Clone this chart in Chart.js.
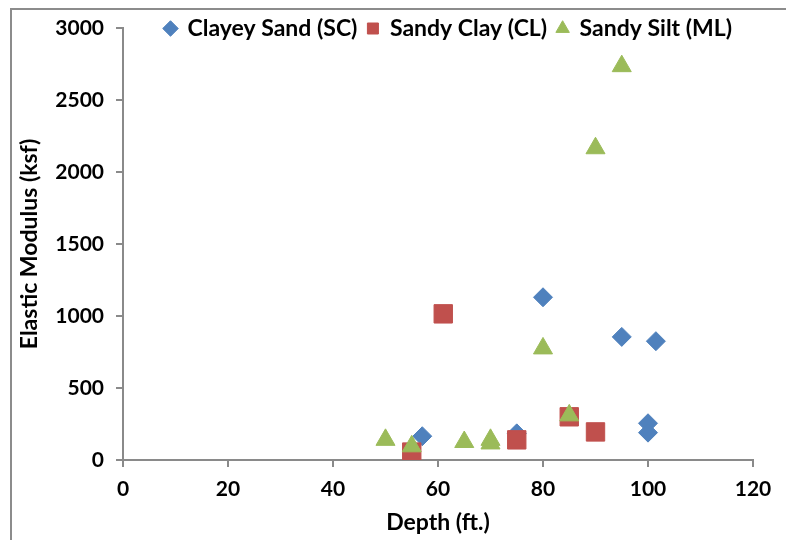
<!DOCTYPE html>
<html>
<head>
<meta charset="utf-8">
<script src="https://cdn.jsdelivr.net/npm/chart.js@4"></script>
<style>
  html, body { margin: 0; padding: 0; background: #fff; }
  #wrap { position: relative; width: 786px; height: 540px; }
  #frame { position: absolute; left: 10px; top: 8px; right: -5px; bottom: -5px;
           border-left: 2px solid #8c8c8c; border-top: 2px solid #8c8c8c; }
  canvas { position: absolute; left: 0; top: 0; }
</style>
</head>
<body>
<div id="wrap">
  <div id="frame"></div>
  <canvas id="chart" width="786" height="540"></canvas>
</div>
<script>
// depth (ft.) vs elastic modulus (ksf)
const sandDepth = [57, 75, 80, 95, 101.5, 100, 100];
const sandMod   = [165, 185, 1130, 855, 825, 255, 190];
const clayDepth = [55, 61, 75, 85, 90];
const clayMod   = [55, 1015, 140, 300, 195];
const siltDepth = [50, 55, 65, 70, 70, 85, 80, 90, 95];
const siltMod   = [140, 95, 125, 140, 115, 310, 775, 2165, 2735];

const xTicks = [0, 20, 40, 60, 80, 100, 120];
const yTicks = [0, 500, 1000, 1500, 2000, 2500, 3000];

const font = 'Lato';
const axisColor = '#8a8a8a';

function pts(xs, ys) {
  return xs.map((x, i) => ({ x: x, y: ys[i] }));
}

// legend sits inside the plot, on top, like excel does it
const legendOverlay = {
  id: 'legendOverlay',
  afterInit(chart) {
    const lg = chart.legend;
    if (!lg) return;
    const fit = lg.fit;
    lg.fit = function () {
      fit.call(this);
      this.realHeight = this.height;
      this.height = 0;
    };
  },
  afterLayout(chart) {
    const lg = chart.legend;
    if (!lg) return;
    lg.top = 7;
    lg.bottom = 7 + (lg.realHeight || 40);
    lg.left = 155;
    lg.right = 786;
  },
};

const chart = new Chart(document.getElementById('chart'), {
  type: 'scatter',
  plugins: [legendOverlay],
  data: {
    datasets: [{
      label: 'Clayey Sand (SC)',
      data: pts(sandDepth, sandMod),
      pointStyle: 'rectRot',
      pointRadius: 9.5,
      backgroundColor: '#4F81BD',
      borderColor: '#4F81BD',
      borderWidth: 1,
      order: 2,
    }, {
      label: 'Sandy Clay (CL)',
      data: pts(clayDepth, clayMod),
      pointStyle: 'rect',
      pointRadius: 13,
      backgroundColor: '#C0504D',
      borderColor: '#C0504D',
      borderWidth: 1,
      order: 1,
    }, {
      label: 'Sandy Silt (ML)',
      data: pts(siltDepth, siltMod),
      pointStyle: 'triangle',
      pointRadius: 11,
      backgroundColor: '#9BBB59',
      borderColor: '#9BBB59',
      borderWidth: 1,
      order: 0,
    }],
  },
  options: {
    responsive: false,
    animation: false,
    layout: { padding: { left: 10, top: 28, right: 33, bottom: 0 } },
    plugins: {
      tooltip: { enabled: false },
      legend: {
        position: 'top',
        align: 'start',
        labels: {
          usePointStyle: true,
          boxWidth: 11,
          boxHeight: 11,
          padding: 10,
          color: '#000',
          font: { family: font, size: 23, weight: 'bold' },
          sort: (a, b) => a.datasetIndex - b.datasetIndex,
        },
      },
    },
    scales: {
      x: {
        type: 'linear',
        min: 0,
        max: 120,
        afterFit: (s) => { s.height = 80; },
        afterBuildTicks: (s) => { s.ticks = xTicks.map(v => ({ value: v })); },
        border: { color: axisColor, width: 2 },
        grid: { drawOnChartArea: false, color: axisColor, tickLength: 7, lineWidth: 2 },
        ticks: { color: '#000', padding: 10, font: { family: font, size: 21, weight: 'bold' },
                 callback: (v) => String(v) },
        title: {
          display: true,
          text: 'Depth (ft.)',
          color: '#000',
          padding: { top: 0, bottom: 4 },
          font: { family: font, size: 23, weight: 'bold' },
        },
      },
      y: {
        type: 'linear',
        min: 0,
        max: 3000,
        afterFit: (s) => { s.width = 113; },
        afterBuildTicks: (s) => { s.ticks = yTicks.map(v => ({ value: v })); },
        border: { color: axisColor, width: 2 },
        grid: { drawOnChartArea: false, color: axisColor, tickLength: 7, lineWidth: 2 },
        ticks: { color: '#000', padding: 12, font: { family: font, size: 21, weight: 'bold' },
                 callback: (v) => String(v) },
        title: {
          display: true,
          text: 'Elastic Modulus (ksf)',
          color: '#000',
          padding: { top: 6, bottom: 0 },
          font: { family: font, size: 23, weight: 'bold' },
        },
      },
    },
  },
});
chart.update();
</script>
</body>
</html>
